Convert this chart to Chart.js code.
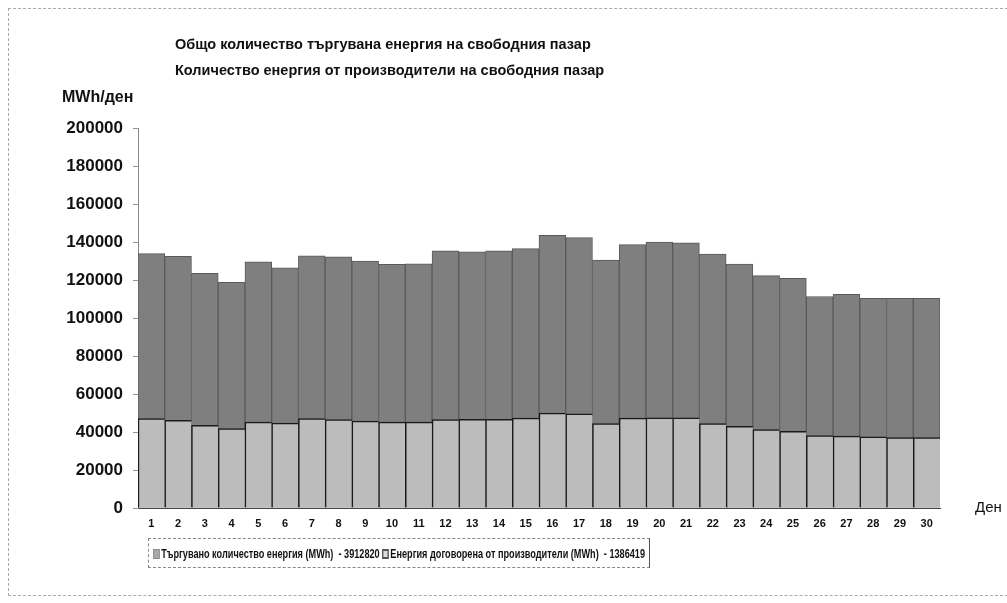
<!DOCTYPE html>
<html>
<head>
<meta charset="utf-8">
<script src="https://cdn.jsdelivr.net/npm/chart.js@4.4.1/dist/chart.umd.min.js"></script>
<style>
  html, body { margin: 0; padding: 0; background: #fff; }
  #wrap { position: relative; width: 1007px; height: 603px; overflow: hidden; font-family: "Liberation Sans", Arial, sans-serif; }
  #frame { position: absolute; left: 8px; top: 8px; width: 1010px; height: 588px; border: 1px dashed #aaa; box-sizing: border-box; }
  canvas { position: absolute; left: 0; top: 0; }
  .txt { position: absolute; font-weight: bold; color: #111; white-space: nowrap; }
  #title { left: 175px; top: 31px; font-size: 14.5px; line-height: 26px; }
  #unit { left: 62px; top: 88px; font-size: 16px; }
  #xunit { left: 975px; top: 498px; font-size: 15px; font-weight: normal; }
  #legend { position: absolute; left: 148px; top: 538px; width: 502px; height: 30px; border: 1px dashed #888; border-right: 1px solid #555; box-sizing: border-box; overflow: hidden; }
  #legin { position: absolute; left: 4px; top: 7px; white-space: nowrap; transform-origin: 0 50%;
           font-family: "Liberation Sans", Arial, sans-serif; font-weight: bold; font-size: 13.5px; line-height: 15px; color: #111; }
  .sw { display: inline-block; width: 10px; height: 10px; margin-right: 2px; vertical-align: -1px; box-sizing: border-box; }
</style>
</head>
<body>
<div id="wrap">
  <div id="frame"></div>
  <canvas id="chart" width="1007" height="603"></canvas>
  <div class="txt" id="title">Общо количество търгувана енергия на свободния пазар<br>Количество енергия от производители на свободния пазар</div>
  <div class="txt" id="unit">MWh/ден</div>
  <div class="txt" id="xunit">Ден</div>
  <div id="legend">
    <div id="legin"><span class="sw" style="background:#a8a8a8;border:1px solid #888"></span>Търгувано количество енергия (MWh)&nbsp; - 3912820 <span class="sw" style="background:#ddd;border:2px solid #555"></span>Енергия договорена от производители (MWh)&nbsp; - 1386419</div>
  </div>
</div>
<script>
// days of the month
const days = ['1','2','3','4','5','6','7','8','9','10','11','12','13','14','15',
              '16','17','18','19','20','21','22','23','24','25','26','27','28','29','30'];

// traded energy on the free market, MWh/day
const traded = [133900, 132500, 123500, 118800, 129600, 126400, 132700, 132200, 129900, 128200,
                128500, 135300, 134800, 135300, 136500, 143500, 142300, 130500, 138600, 140000,
                139500, 133600, 128400, 122300, 120900, 111300, 112500, 110400, 110400, 110400];

// energy contracted by producers, MWh/day
const producers = [47000, 46100, 43500, 41800, 45200, 44700, 47000, 46500, 45700, 45200,
                   45200, 46500, 46700, 46700, 47300, 49900, 49600, 44400, 47300, 47400,
                   47400, 44400, 43000, 41300, 40400, 38100, 37800, 37400, 37000, 37000];

const yTicks = [0, 20000, 40000, 60000, 80000, 100000, 120000, 140000, 160000, 180000, 200000];

document.addEventListener('DOMContentLoaded', () => {
  // squeeze the legend line into its box, like the narrow font of the original
  const leg = document.getElementById('legin');
  const k = 492 / leg.scrollWidth;
  if (k < 1) leg.style.transform = `scaleX(${k})`;

  const ctx = document.getElementById('chart').getContext('2d');
  new Chart(ctx, {
    type: 'bar',
    data: {
      labels: days,
      datasets: [
        {
          label: 'Търгувано количество енергия (MWh) - 3912820',
          data: traded,
          backgroundColor: '#7f7f7f',
          borderColor: '#5a5a5a',
          borderWidth: 1,
          order: 2,
        },
        {
          label: 'Енергия договорена от производители (MWh) - 1386419',
          data: producers,
          backgroundColor: '#bcbcbc',
          borderColor: '#1a1a1a',
          borderWidth: { top: 1.5, left: 1.5, right: 0, bottom: 0 },
          order: 1,
        },
      ],
    },
    options: {
      responsive: false,
      animation: false,
      layout: { padding: { left: 0, right: 67, top: 128, bottom: 0 } },
      datasets: { bar: { grouped: false, barPercentage: 1, categoryPercentage: 1 } },
      plugins: {
        legend: { display: false },
        tooltip: { enabled: false },
      },
      scales: {
        x: {
          grid: { display: false },
          border: { display: true, color: '#444', width: 1 },
          ticks: { color: '#111', font: { family: 'Liberation Sans', size: 11, weight: 'bold' }, maxRotation: 0, autoSkip: false, padding: 1 },
          afterFit: (scale) => { scale.height = 95; },
        },
        y: {
          min: 0,
          max: 200000,
          grid: { drawOnChartArea: false, drawTicks: true, tickLength: 5, color: '#999' },
          border: { display: true, color: '#888', dash: [3, 2] },
          afterBuildTicks: (scale) => { scale.ticks = yTicks.map(v => ({ value: v })); },
          ticks: {
            color: '#111', padding: 10,
            font: { family: 'Liberation Sans', size: 17, weight: 'bold' },
            callback: (v) => String(v),
          },
          afterFit: (scale) => { scale.width = 138; },
        },
      },
    },
  });
});
</script>
</body>
</html>
